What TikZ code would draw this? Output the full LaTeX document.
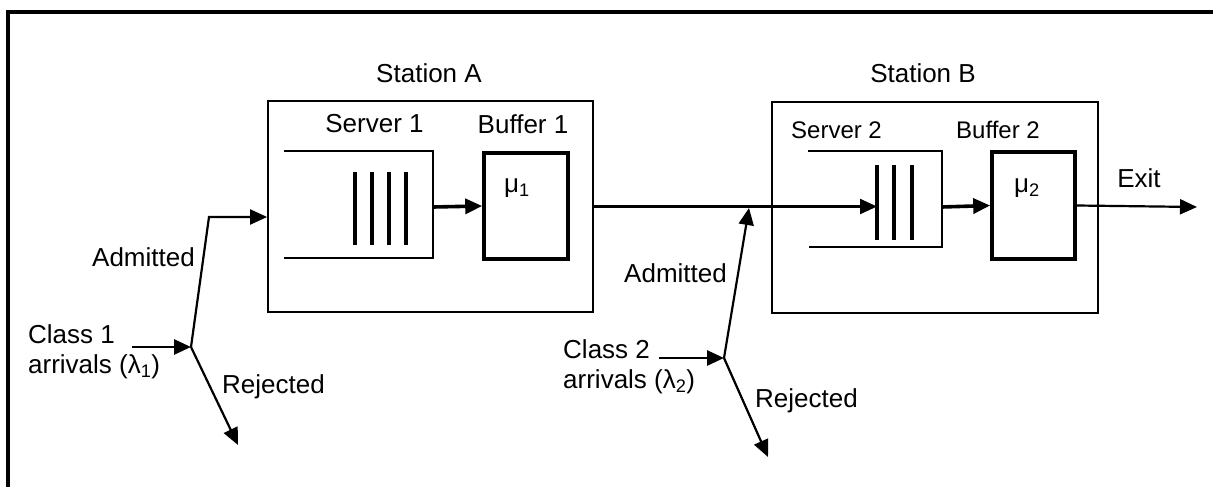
\documentclass[tikz,border=0pt]{standalone}
\usepackage{fontspec}
\setmainfont{Liberation Sans}
\usetikzlibrary{arrows.meta}
\tikzset{
	lbl/.style={font=\fontsize{26}{30.5}\selectfont, inner sep=0pt},
	lblsm/.style={font=\fontsize{24}{28}\selectfont, inner sep=0pt},
	wire/.style={line width=1.8pt},
	heavy/.style={line width=3.6pt},
	arr/.style={line width=2.2pt, -{Triangle[length=17pt,width=15pt]}},
	stbox/.style={draw, wire, inner sep=0pt},
	bufbox/.style={draw, heavy, inner sep=0pt},
}

\begin{document}
\begin{tikzpicture}[x=1pt,y=-1pt]
	\useasboundingbox (0,0) rectangle (1213,487);
	\clip (0,0) rectangle (1213,487);
	%frame
	\draw[line width=4pt] (8,12) rectangle (1260,530);

	%station A
	\node[lbl] (labA) at (429,73) {Station A};
	\node[stbox, minimum width=325pt, minimum height=211pt] (staA) at (430.5,206.5) {};
	\node[lbl] (srv1) at (374.5,124) {Server 1};
	\node[lbl] (lbuf1) at (523,124) {Buffer 1};
	\draw[wire] (284,151) -| (433,258) -- (284,258);
	\foreach \x in {355,372,389,406} \draw[heavy] (\x,172) -- (\x,245);
	\coordinate (q1) at (433,207);
	\node[bufbox, minimum width=84pt, minimum height=106pt] (buf1) at (526,206) {};
	\node[lbl] (mu1) at (517,188) {μ\textsubscript{1}};
	\draw[arr, heavy] (q1) -- (buf1.west);

	%station B
	\node[lbl] (labB) at (923,73) {Station B};
	\node[stbox, minimum width=326pt, minimum height=211pt] (staB) at (935,207.5) {};
	\node[lblsm] (srv2) at (836.5,130) {Server 2};
	\node[lblsm] (lbuf2) at (998,130) {Buffer 2};
	\draw[wire] (808,151) -| (942,247) -- (809,247);
	\foreach \x in {877,894,912} \draw[heavy] (\x,165) -- (\x,240);
	\coordinate (q2) at (942,207);
	\coordinate (s2in) at (877,207);
	\node[bufbox, minimum width=83pt, minimum height=107pt] (buf2) at (1033.5,205.5) {};
	\node[lbl] (mu2) at (1027,188) {μ\textsubscript{2}};
	\draw[arr, heavy] (q2) -- (buf2.west);

	%link and exit
	\draw[arr] (staA.east) -- (staA.east -| s2in);
	\coordinate (out) at (1197,207);
	\draw[arr] (buf2.east) -- (out);
	\node[lbl] (exit) at (1139,178) {Exit};

	%class 1
	\node[lbl, align=left, anchor=north west] (cls1) at (28,324) {Class 1\\arrivals (λ\textsubscript{1})};
	\coordinate (c1) at (132,347);
	\coordinate (j1) at (191,347);
	\coordinate (k1) at (209,217);
	\coordinate (r1) at (238,445);
	\draw[arr, line width=2.8pt] (c1) -- (j1);
	\draw[arr] (j1) -- (k1) -- (staA.west |- k1);
	\draw[arr] (j1) -- (r1);
	\node[lbl, anchor=east] (adm1) at (195,257) {Admitted};
	\node[lbl, anchor=west] (rej1) at (222,387) {Rejected};

	%class 2
	\node[lbl, align=left, anchor=north west] (cls2) at (563,339) {Class 2\\arrivals (λ\textsubscript{2})};
	\coordinate (c2) at (659,358);
	\coordinate (j2) at (724,358);
	\coordinate (m2) at (749,208);
	\coordinate (r2) at (768,457);
	\draw[arr, line width=2.8pt] (c2) -- (j2);
	\draw[arr] (j2) -- (m2);
	\draw[arr] (j2) -- (r2);
	\node[lbl, anchor=east] (adm2) at (727,273) {Admitted};
	\node[lbl, anchor=west] (rej2) at (755,401) {Rejected};
\end{tikzpicture}
\end{document}
